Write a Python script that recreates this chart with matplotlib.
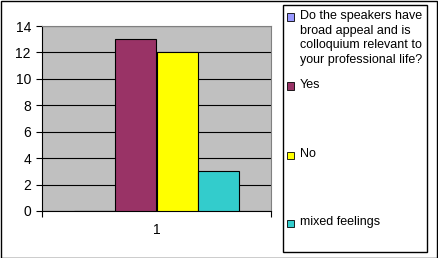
import matplotlib.pyplot as plt
from matplotlib.patches import Rectangle

# ------------------------------------------------------------
# DATI
# ------------------------------------------------------------

series_names = [
    "Do the speakers have\nbroad appeal and is\ncolloquium relevant to\nyour professional life?",
    "Yes",
    "No",
    "mixed feelings",
]
series_values = [0, 13, 12, 3]
series_colors = ["#9999FF", "#993366", "#FFFF00", "#33CCCC"]
category_label = "1"
y_ticks = [0, 2, 4, 6, 8, 10, 12, 14]

plt.rcParams["font.family"] = ["Liberation Sans", "DejaVu Sans"]
plt.rcParams["font.size"] = 9

W, H = 438, 258
fig = plt.figure(figsize=(W / 100, H / 100), dpi=100)

# riquadro esterno
fig.patches.append(Rectangle((0.5 / W, 0.5 / H), (W - 1.5) / W, (H - 1.5) / H,
                             transform=fig.transFigure, fill=False,
                             edgecolor="black", linewidth=1))

# ------------------------------------------------------------
# AREA DEL GRAFICO
# ------------------------------------------------------------

left, right, top, bottom = 42, 271, 26, 211
ax = fig.add_axes([left / W, 1 - bottom / H, (right - left) / W, (bottom - top) / H])
ax.set_facecolor("#C0C0C0")

bar_width = 0.178
step = 0.181
for i, (value, color) in enumerate(zip(series_values, series_colors)):
    center = 0.5 + (i - 1.5) * step
    ax.bar(center, value, width=bar_width, color=color,
           edgecolor="black", linewidth=0.8, zorder=3)

ax.set_xlim(0, 1)
ax.set_ylim(0, 14)
ax.set_yticks(y_ticks)
ax.yaxis.grid(True, color="black", linewidth=0.8, zorder=1)
ax.set_axisbelow(True)

ax.set_xticks([0, 1])
ax.set_xticklabels([])
ax.set_xticks([0.5], minor=True)
ax.set_xticklabels([category_label], minor=True)
ax.tick_params(axis="x", which="minor", length=0, pad=9, labelsize=10)
ax.tick_params(axis="x", which="major", length=4, direction="out")
ax.tick_params(axis="y", length=4, direction="out", pad=4, labelsize=10)

for side in ["top", "right"]:
    ax.spines[side].set_color("#808080")
ax.spines["left"].set_color("black")
ax.spines["bottom"].set_color("black")

# ------------------------------------------------------------
# LEGENDA
# ------------------------------------------------------------

lx0, ly0, lx1, ly1 = 283, 5, 427, 252
fig.patches.append(Rectangle((lx0 / W, 1 - ly1 / H), (lx1 - lx0) / W, (ly1 - ly0) / H,
                             transform=fig.transFigure, fill=False,
                             edgecolor="black", linewidth=1))

legend_y = [17, 86, 155, 223]
for name, color, yy in zip(series_names, series_colors, legend_y):
    fig.patches.append(Rectangle((287 / W, 1 - (yy + 3.5) / H), 7 / W, 7 / H,
                                 transform=fig.transFigure, facecolor=color,
                                 edgecolor="black", linewidth=0.6))
    fig.text(300 / W, 1 - (yy - 7) / H, name, ha="left", va="top",
             linespacing=1.3)

fig.savefig("out.png", dpi=100)
